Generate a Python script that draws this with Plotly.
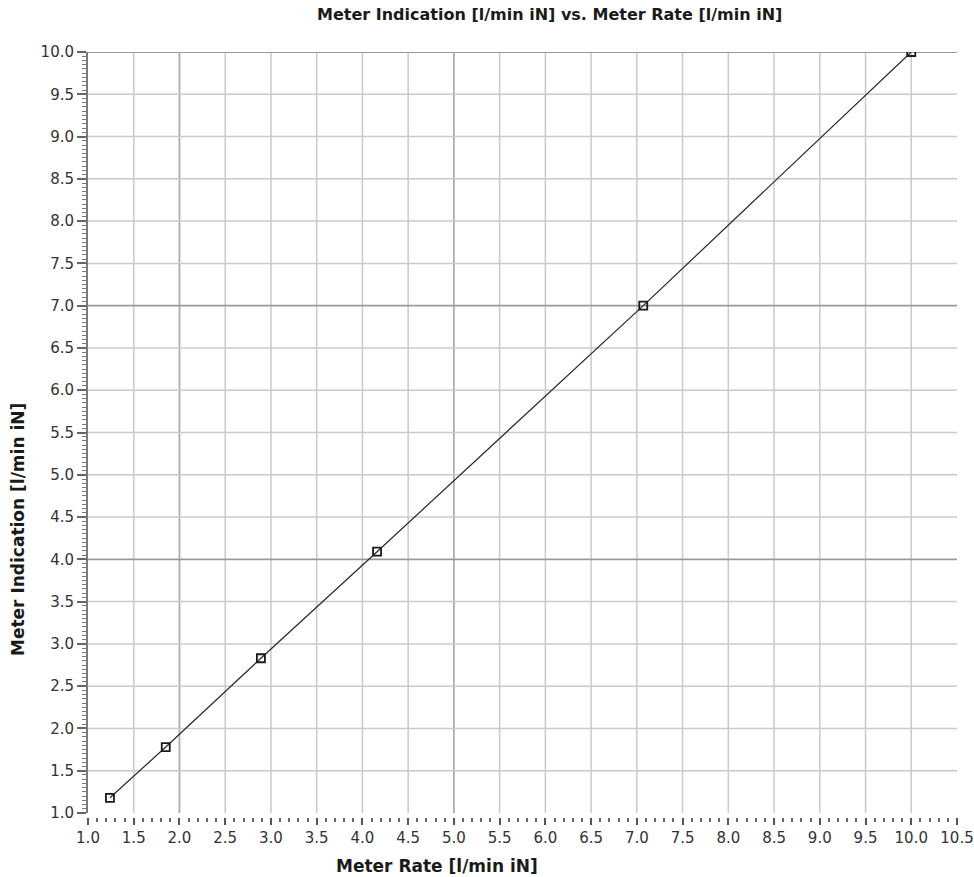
import plotly.graph_objects as go

# Calibration readings
meter_rate = [1.24, 1.85, 2.89, 4.16, 7.07, 10.0]        # l/min iN
meter_indication = [1.18, 1.78, 2.83, 4.09, 7.0, 10.0]   # l/min iN

x_ticks = [1.0 + 0.5 * i for i in range(20)]
y_ticks = [1.0 + 0.5 * i for i in range(19)]
x_tick_text = [f"{v:.1f}" for v in x_ticks]
y_tick_text = [f"{v:.1f}" for v in y_ticks]

# Grid lines (the 1.0 edge and the 10.5 edge carry none)
grid_x = x_ticks[1:-1]
grid_y = y_ticks[1:]
# Heavier reference lines in the grid
strong_x = [2.0, 5.0]
strong_y = [4.0, 7.0, 10.0]

W, H = 974, 877
M_L, M_R, M_T, M_B = 88, 17, 52, 48
plot_w = W - M_L - M_R
plot_h = H - M_T - M_B
y_bottom_px = 813
dom_y0 = (H - M_B - y_bottom_px) / plot_h
x_axis_px = 817
x_axis_pos = (H - M_B - x_axis_px) / plot_h

TICK_FONT = dict(family="DejaVu Sans", size=15, color="#333333")
TITLE_FONT = dict(family="DejaVu Sans", size=16, color="#1a1a1a")
AXIS_TITLE_FONT = dict(family="DejaVu Sans", size=17, color="#1a1a1a")

fig = go.Figure()
fig.add_trace(go.Scatter(
    x=meter_rate, y=meter_indication,
    mode="lines+markers",
    line=dict(color="#262626", width=1.2),
    marker=dict(symbol="square-open", size=8, color="#1a1a1a",
                line=dict(width=1.8, color="#1a1a1a")),
    showlegend=False,
))

shapes = []
for v in grid_x:
    strong = v in strong_x
    shapes.append(dict(type="line", xref="x", yref="y", x0=v, x1=v, y0=1.0, y1=10.0,
                       line=dict(color="#adadad" if strong else "#cacaca",
                                 width=1.8 if strong else 1.5),
                       layer="below"))
for v in grid_y:
    strong = v in strong_y
    shapes.append(dict(type="line", xref="x", yref="y", x0=1.0, x1=10.5, y0=v, y1=v,
                       line=dict(color="#9a9a9a" if strong else "#cacaca",
                                 width=1.8 if strong else 1.5),
                       layer="below"))

fig.update_layout(
    width=W, height=H, autosize=False,
    margin=dict(l=M_L, r=M_R, t=M_T, b=M_B, autoexpand=False),
    paper_bgcolor="white", plot_bgcolor="white",
    shapes=shapes,
    xaxis=dict(
        range=[1.0, 10.5], tickvals=x_ticks, ticktext=x_tick_text,
        anchor="free", position=x_axis_pos, automargin=False,
        showgrid=False, zeroline=False, showline=False,
        ticks="outside", ticklen=7, tickwidth=1.5, tickcolor="#555555",
        minor=dict(dtick=0.1, tick0=1.0, ticks="outside", ticklen=4,
                   tickwidth=1.5, tickcolor="#666666", showgrid=False),
        tickfont=TICK_FONT,
    ),
    yaxis=dict(
        range=[1.0, 10.0], tickvals=y_ticks, ticktext=y_tick_text,
        domain=[dom_y0, 1.0], automargin=False,
        showgrid=False, zeroline=False,
        showline=True, linecolor="#7a7a7a", linewidth=2,
        ticks="outside", ticklen=9, tickwidth=1.5, tickcolor="#666666",
        minor=dict(dtick=0.05, tick0=1.0, ticks="outside", ticklen=4,
                   tickwidth=1, tickcolor="#777777", showgrid=False),
        tickfont=TICK_FONT,
    ),
    annotations=[
        dict(text="<b>Meter Indication [l/min iN] vs. Meter Rate [l/min iN]</b>",
             xref="paper", yref="paper", x=(549 - M_L) / plot_w,
             y=(H - M_B - 15) / plot_h, xanchor="center", yanchor="middle",
             showarrow=False, font=TITLE_FONT),
        dict(text="<b>Meter Rate [l/min iN]</b>",
             xref="paper", yref="paper", x=(437 - M_L) / plot_w,
             y=(H - M_B - 866) / plot_h, xanchor="center", yanchor="middle",
             showarrow=False, font=AXIS_TITLE_FONT),
        dict(text="<b>Meter Indication [l/min iN]</b>",
             xref="paper", yref="paper", x=(18 - M_L) / plot_w,
             y=(H - M_B - 530) / plot_h, xanchor="center", yanchor="middle",
             textangle=-90, showarrow=False, font=AXIS_TITLE_FONT),
    ],
)

fig.write_html("out.html")
